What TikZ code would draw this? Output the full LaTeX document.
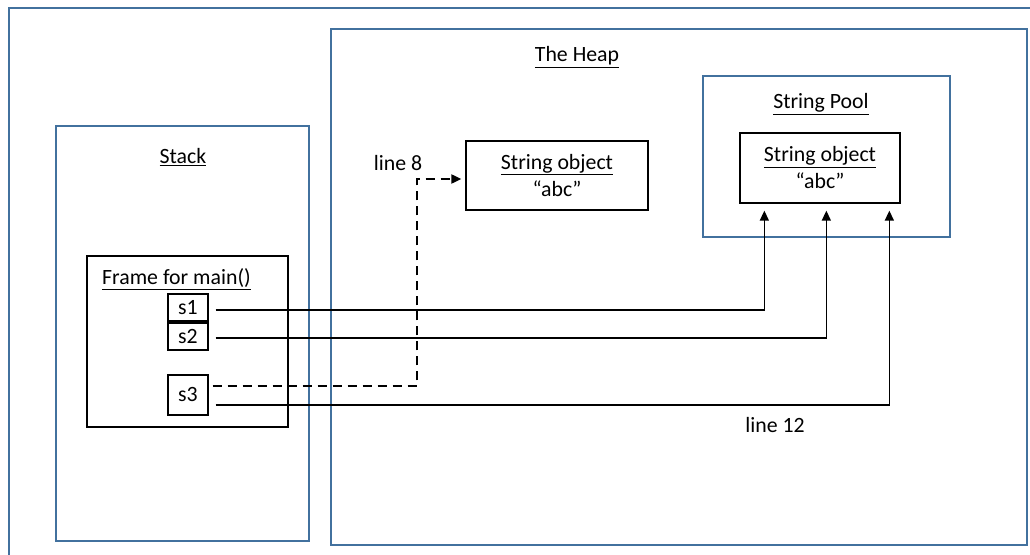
\documentclass[tikz,border=0pt]{standalone}
\usepackage{fontspec}
\setmainfont{Carlito}
\usepackage{tikz}
\usetikzlibrary{arrows.meta,calc,positioning}
\definecolor{boxblue}{RGB}{66,113,158}

\begin{document}
\begin{tikzpicture}[x=1pt, y=-1pt,
  font=\fontsize{21.8}{27}\selectfont,
  area/.style={draw=boxblue, line width=1.3pt, inner sep=0pt},
  obj/.style={draw=black, line width=1.3pt, inner sep=0pt, align=center},
  ref/.style={line width=1.4pt, -{Triangle[length=10pt,width=9pt]}, shorten <=7pt},
  newref/.style={line width=2pt, dash pattern=on 9pt off 6pt, -{Triangle[length=10pt,width=9pt]}, shorten <=4pt, shorten >=4pt}]
\clip (0,0) rectangle (1030,554);
\fill[white] (0,0) rectangle (1030,554);
% outer frame, runs off the page
\draw[area] (9,570) |- (1045,8);
% stack side
\node[area, minimum width=253pt, minimum height=415pt] (stack) at (182.5,333.5) {};
\node (stacklbl) at (183,157) {\underline{Stack}};
\node[obj, minimum width=201pt, minimum height=171pt] (frame) at (187.5,341.5) {};
\node[anchor=west, inner sep=0pt] (framelbl) at (102,279) {\underline{Frame for main()}};
\node[obj, minimum width=40pt, minimum height=27pt] (s1) at (188,307.5) {s1};
\node[obj, minimum width=40pt, minimum height=27pt] (s2) at (188,336.5) {s2};
\node[obj, minimum width=40pt, minimum height=40pt] (s3) at (188,395) {s3};
% heap side
\node[area, minimum width=696pt, minimum height=516pt] (heap) at (679,287) {};
\node (heaplbl) at (577,57) {\underline{The Heap}};
\node[obj, minimum width=182pt, minimum height=69pt] (heapobj) at (557,175.5)
  {\underline{String object}\\“abc”};
\node[area, minimum width=247pt, minimum height=161pt] (pool) at (826.5,156.5) {};
\node (poollbl) at (821,104) {\underline{String Pool}};
\node[obj, minimum width=160pt, minimum height=70pt] (poolobj) at (820,168)
  {\underline{String object}\\“abc”};
\node (line8) at (398,163) {line 8};
\node (line12) at (775,425) {line 12};
% references
\coordinate (bend) at (417,179);
\draw[ref] ([yshift=-2.5pt]s1.east) -| ($(poolobj.south west)+(25,7)$);
\draw[ref] ([yshift=-1.5pt]s2.east) -| ($(poolobj.south west)+(87,7)$);
\draw[ref] ([yshift=-10pt]s3.east) -| ($(poolobj.south west)+(150,7)$);
\draw[newref] ([yshift=9pt]s3.east) -| (bend) -- (bend -| heapobj.west);
\end{tikzpicture}
\end{document}
